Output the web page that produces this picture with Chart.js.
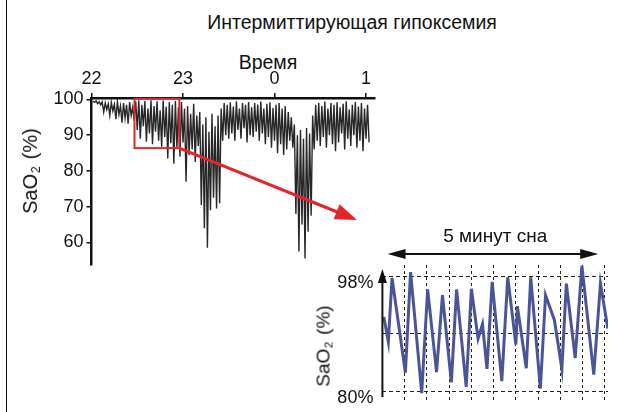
<!DOCTYPE html>
<html>
<head>
<meta charset="utf-8">
<script src="https://cdn.jsdelivr.net/npm/chart.js@4.4.1/dist/chart.umd.min.js"></script>
<style>
  html, body { margin: 0; padding: 0; background: #fff; }
  #fig { position: relative; width: 618px; height: 412px; overflow: hidden;
         font-family: "Liberation Sans", Arial, Helvetica, sans-serif; color: #111; }
  #frame { position: absolute; left: 6px; top: 0; height: 412px; border-left: 1.5px solid #111; }
  .label { position: absolute; white-space: nowrap; transform: translateX(-50%);
           font-size: 19.5px; line-height: 22px; }
  .vlabel { position: absolute; white-space: nowrap; line-height: 22px; z-index: 2;
            transform: translate(-50%, -50%) rotate(-90deg); }
  .vlabel sub { font-size: 62%; vertical-align: -0.25em; margin: 0 0.12em 0 0.05em; }
  canvas { position: absolute; }
</style>
</head>
<body>
<div id="fig">
  <div id="frame"></div>
  <div class="label" style="left:352px; top:11px;">Интермиттирующая гипоксемия</div>
  <div class="label" style="left:268px; top:51px;">Время</div>
  <canvas id="overview" width="618" height="412" style="left:0; top:0;"></canvas>
  <canvas id="detail" width="307" height="190" style="left:311px; top:222px;"></canvas>
  <div class="vlabel" style="left:33px; top:171px; font-size:20px;">SaO<sub>2</sub> (%)</div>
  <div class="vlabel" style="left:326px; top:346px; font-size:19px;">SaO<sub>2</sub> (%)</div>
</div>
<script>
// Night-time oximetry, one SaO2 reading per minute starting at 22:00
const hourLabels = ['22', '23', '0', '1'];
const overviewSaO2 = [
  99.5, 99.2, 99.6, 98.8, 99.4, 98.5, 99.3, 96.5, 99.0, 97.2,
  98.8, 95.5, 99.2, 96.8, 98.6, 94.5, 99.4, 95.8, 98.2, 93.5,
  99.0, 94.8, 98.5, 93.2, 99.3, 95.5, 97.8, 94.0, 99.5, 91.5,
  99.8, 89.0, 98.5, 92.5, 99.6, 88.2, 97.5, 90.5, 99.8, 87.5,
  98.2, 91.0, 99.5, 88.5, 97.0, 86.8, 99.7, 89.5, 98.0, 83.5,
  99.2, 87.8, 98.5, 82.0, 99.6, 86.5, 97.8, 84.0, 99.3, 88.0,
  97.5, 77.0, 98.2, 84.5, 96.0, 86.0, 98.8, 82.5, 95.5, 87.0,
  96.5, 70.5, 93.0, 64.0, 95.0, 58.5, 91.0, 69.0, 96.0, 72.5,
  92.5, 69.5, 95.5, 71.0, 97.5, 88.5, 99.0, 90.0, 98.5, 89.0,
  99.2, 90.5, 98.0, 88.5, 99.5, 91.5, 97.5, 89.0, 99.0, 92.0,
  98.5, 88.0, 99.3, 90.0, 97.8, 89.5, 99.0, 91.0, 98.6, 88.5,
  99.4, 90.5, 97.5, 87.5, 98.8, 89.5, 99.2, 86.5, 97.6, 88.5,
  98.5, 85.0, 99.0, 87.5, 97.5, 84.5, 98.2, 86.0, 96.5, 88.5,
  95.0, 86.5, 93.0, 68.0, 90.0, 57.5, 91.5, 65.0, 89.0, 55.5,
  92.0, 63.0, 90.5, 67.5, 95.5, 86.0, 98.5, 88.5, 99.0, 87.0,
  98.2, 89.5, 99.4, 86.5, 97.5, 90.0, 99.0, 87.5, 98.5, 85.5,
  99.2, 88.0, 97.8, 90.5, 98.8, 86.0, 99.5, 89.0, 97.2, 87.0,
  98.5, 90.0, 99.3, 86.5, 98.0, 88.5, 99.0, 85.5, 97.5, 89.0,
  98.5, 88.0
];
const overviewTicks = [60, 70, 80, 90, 100];

// Five-minute close-up: time in seconds and SaO2 in %
const detailSeconds = [2, 8, 13, 31, 38, 53, 61, 73, 81, 93, 100, 113, 120, 129, 135, 141, 148,
                       161, 169, 180, 182, 194, 200, 213, 220, 232, 242, 248, 260, 269, 285, 294, 304];
const detailSaO2 = [91.6, 87.7, 97.7, 82.9, 98.6, 79.7, 95.9, 83.0, 95.0, 81.4, 95.9, 80.7, 96.0,
                    88.2, 90.5, 83.5, 97.1, 81.6, 97.8, 87.3, 93.3, 83.6, 97.8, 80.4, 95.0, 91.1,
                    83.5, 96.8, 85.2, 99.6, 82.6, 96.8, 89.8];
const detailGridSeconds = [30, 60, 90, 120, 150, 180, 210, 240, 270, 300];
const detailTicks = [80, 89, 98];
const labelledDetailTicks = [80, 98];

// Highlighted window on the overview (hours after 22:00, SaO2 range) and the bracket span in seconds
const zoomWindow = { from: 0.47, to: 0.96, low: 86.4, high: 100.2 };
const bracketSpan = { from: 7, to: 291 };

const INK = '#111';
const RED = '#e3262a';
const FONT = '"Liberation Sans", Arial, Helvetica, sans-serif';

// keep the plot area exactly where the layout padding puts it
const noEdgePadding = s => { s.paddingTop = 0; s.paddingBottom = 0; s.paddingLeft = 0; s.paddingRight = 0; };

function arrowHead(ctx, fromX, fromY, toX, toY, len, half) {
  const a = Math.atan2(toY - fromY, toX - fromX);
  ctx.beginPath();
  ctx.moveTo(toX, toY);
  ctx.lineTo(toX - len * Math.cos(a) + half * Math.sin(a), toY - len * Math.sin(a) - half * Math.cos(a));
  ctx.lineTo(toX - len * Math.cos(a) - half * Math.sin(a), toY - len * Math.sin(a) + half * Math.cos(a));
  ctx.closePath();
  ctx.fill();
}

const zoomWindowPlugin = {
  id: 'zoomWindow',
  afterDatasetsDraw(chart) {
    const { ctx, scales: { x, y } } = chart;
    const x0 = x.getPixelForValue(zoomWindow.from);
    const x1 = x.getPixelForValue(zoomWindow.to);
    const y0 = y.getPixelForValue(zoomWindow.high);
    const y1 = y.getPixelForValue(zoomWindow.low);
    ctx.save();
    ctx.strokeStyle = RED;
    ctx.fillStyle = RED;
    ctx.lineWidth = 2;
    ctx.strokeRect(x0, y0, x1 - x0, y1 - y0);
    // pointer from the window towards the close-up
    const tipX = 357, tipY = 220;
    const a = Math.atan2(tipY - y1, tipX - x1);
    ctx.lineWidth = 3;
    ctx.beginPath();
    ctx.moveTo(x1, y1);
    ctx.lineTo(tipX - 18 * Math.cos(a), tipY - 18 * Math.sin(a));
    ctx.stroke();
    arrowHead(ctx, x1, y1, tipX, tipY, 22, 8);
    ctx.restore();
  }
};

const detailDecorPlugin = {
  id: 'detailDecor',
  afterDraw(chart) {
    const { ctx, scales: { x, y }, chartArea } = chart;
    ctx.save();
    ctx.strokeStyle = INK;
    ctx.fillStyle = INK;
    // vertical axis with an arrow tip
    const ax = chartArea.left;
    const yBottom = y.getPixelForValue(79.1);
    const yTip = y.getPixelForValue(99.1);
    ctx.lineWidth = 2;
    ctx.beginPath();
    ctx.moveTo(ax, yBottom);
    ctx.lineTo(ax, yTip + 12);
    ctx.stroke();
    arrowHead(ctx, ax, yBottom, ax, yTip, 14, 4.5);
    // double-headed bracket under the caption
    const by = chartArea.top - 11;
    const bx0 = x.getPixelForValue(bracketSpan.from);
    const bx1 = x.getPixelForValue(bracketSpan.to);
    ctx.beginPath();
    ctx.moveTo(bx0 + 10, by);
    ctx.lineTo(bx1 - 10, by);
    ctx.stroke();
    arrowHead(ctx, bx1, by, bx0, by, 18, 5);
    arrowHead(ctx, bx0, by, bx1, by, 18, 5);
    ctx.restore();
  }
};

new Chart(document.getElementById('overview'), {
  type: 'line',
  data: {
    datasets: [{
      data: overviewSaO2.map((v, i) => ({ x: (i + 1) / 60, y: v })),
      borderColor: 'rgba(15,15,15,0.9)',
      borderWidth: 1.4,
      pointRadius: 0,
      tension: 0
    }]
  },
  options: {
    responsive: false,
    animation: false,
    events: [],
    layout: { padding: { left: 18, top: 60, right: 243, bottom: 147 } },
    plugins: { legend: { display: false }, tooltip: { enabled: false } },
    scales: {
      x: {
        type: 'linear', position: 'top', min: 0, max: 3.098,
        afterBuildTicks: s => { s.ticks = hourLabels.map((_, i) => ({ value: i })); },
        afterFit: s => { s.height = 38; noEdgePadding(s); },
        ticks: { callback: (v, i) => hourLabels[i], color: INK, font: { family: FONT, size: 18 },
                 padding: 3, maxRotation: 0, autoSkip: false },
        grid: { drawOnChartArea: false, drawTicks: true, tickLength: 5, color: INK, lineWidth: 1.5 },
        border: { display: true, color: INK, width: 2.5 }
      },
      y: {
        min: 53.7, max: 100.42,
        afterBuildTicks: s => { s.ticks = overviewTicks.map(v => ({ value: v })); },
        afterFit: s => { s.width = 73.5; noEdgePadding(s); },
        ticks: { color: INK, font: { family: FONT, size: 18 }, padding: 3 },
        grid: { drawOnChartArea: false, drawTicks: true, tickLength: 5, color: INK, lineWidth: 1.5 },
        border: { display: true, color: INK, width: 2.5 }
      }
    }
  },
  plugins: [zoomWindowPlugin]
});

new Chart(document.getElementById('detail'), {
  type: 'line',
  data: {
    datasets: [{
      data: detailSeconds.map((s, i) => ({ x: s, y: detailSaO2[i] })),
      borderColor: '#4b5596',
      borderWidth: 3,
      pointRadius: 0,
      tension: 0
    }]
  },
  options: {
    responsive: false,
    animation: false,
    events: [],
    layout: { padding: { left: 0, top: 0, right: 10, bottom: 12 } },
    plugins: {
      legend: { display: false },
      tooltip: { enabled: false },
      title: { display: true, text: '5 минут сна', fullSize: false, color: INK,
               font: { family: FONT, size: 19, weight: 'normal' }, padding: { top: 3, bottom: 17.2 } }
    },
    scales: {
      x: {
        type: 'linear', min: 0, max: 304.2,
        afterBuildTicks: s => { s.ticks = detailGridSeconds.map(v => ({ value: v })); },
        afterFit: s => { s.height = 0; noEdgePadding(s); },
        ticks: { display: false },
        grid: { color: '#222', lineWidth: 1, drawTicks: false },
        border: { display: false, dash: [3, 3] }
      },
      y: {
        min: 78.64, max: 99.72,
        afterBuildTicks: s => { s.ticks = detailTicks.map(v => ({ value: v })); },
        afterFit: s => { s.width = 71.4; noEdgePadding(s); },
        ticks: { callback: v => labelledDetailTicks.includes(v) ? v + '%' : '',
                 color: INK, font: { family: FONT, size: 18 }, padding: 9, labelOffset: 7 },
        grid: { color: '#222', lineWidth: 1, drawTicks: false },
        border: { display: false, dash: [4, 3] }
      }
    }
  },
  plugins: [detailDecorPlugin]
});
</script>
</body>
</html>
